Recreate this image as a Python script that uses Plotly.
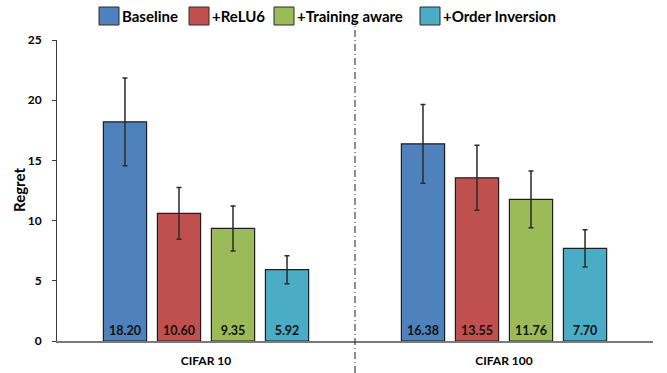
import plotly.graph_objects as go

# Datasets on the x axis
categories = ["CIFAR 10", "CIFAR 100"]

# Mean regret per method
baseline = [18.20, 16.38]
relu6 = [10.60, 13.55]
training_aware = [9.35, 11.76]
order_inversion = [5.92, 7.70]

# Error bar half-widths per method
baseline_err = [3.65, 3.27]
relu6_err = [2.14, 2.70]
training_aware_err = [1.87, 2.35]
order_inversion_err = [1.17, 1.55]

series_names = ["Baseline", "+ReLU6", "+Training aware", "+Order Inversion"]
series_values = [baseline, relu6, training_aware, order_inversion]
series_errors = [baseline_err, relu6_err, training_aware_err, order_inversion_err]
colors = ["#4F81BD", "#C0504D", "#9BBB59", "#4BACC6"]

y_ticks = [0, 5, 10, 15, 20, 25]

FONT = "Lato"
W, H = 667, 373
L, R, T, B = 57, 14, 40, 32

fig = go.Figure()
for name, vals, errs, col in zip(series_names, series_values, series_errors, colors):
    fig.add_trace(go.Bar(
        x=categories,
        y=vals,
        name=name,
        marker=dict(color=col, line=dict(color="#1f1f1f", width=1.2)),
        error_y=dict(type="data", array=errs, visible=True,
                     color="#2a2a2a", thickness=1.5, width=2.5),
        text=[f"{v:.2f}" for v in vals],
        textposition="inside",
        insidetextanchor="start",
        textangle=0,
        constraintext="none",
        insidetextfont=dict(family=FONT, size=12.5, color="#111111", weight="bold"),
        showlegend=False,
    ))

# pixel -> paper helpers for the hand-drawn legend and axis title
pw = W - L - R
ph = H - T - B


def px_x(p):
    return (p - L) / pw


def px_y(p):
    return (H - B - p) / ph


shapes = []
annotations = []

# legend swatches and labels along the top
swatch_left = [99, 189, 274, 420]
for x0, name, col in zip(swatch_left, series_names, colors):
    shapes.append(dict(type="rect", xref="paper", yref="paper",
                       x0=px_x(x0), x1=px_x(x0 + 20), y0=px_y(25), y1=px_y(7),
                       fillcolor=col, line=dict(color="#2a2a2a", width=1)))
    annotations.append(dict(xref="paper", yref="paper", x=px_x(x0 + 21), y=px_y(16),
                            text=name, showarrow=False, xanchor="left", yanchor="middle",
                            font=dict(family=FONT, size=15, color="#000000", weight="bold")))

# rotated y-axis title
annotations.append(dict(xref="paper", yref="paper", x=px_x(19), y=px_y(190),
                        text="Regret", showarrow=False, textangle=-90,
                        xanchor="center", yanchor="middle",
                        font=dict(family=FONT, size=15, color="#000000", weight="bold")))

# dash-dot divider between the two datasets
shapes.append(dict(type="line", xref="x", yref="paper", x0=0.5, x1=0.5,
                   y0=px_y(373), y1=px_y(22),
                   line=dict(color="#1a1a1a", width=1, dash="7px,3px,1px,3px")))

fig.update_layout(
    width=W, height=H,
    margin=dict(l=L, r=R, t=T, b=B),
    paper_bgcolor="white",
    plot_bgcolor="white",
    barmode="group",
    bargap=0.275,
    bargroupgap=0.2,
    font=dict(family=FONT, color="#000000"),
    shapes=shapes,
    annotations=annotations,
    xaxis=dict(
        type="category",
        automargin=False,
        showline=True, linecolor="#7a7a7a", linewidth=2,
        ticks="", showgrid=False, zeroline=False,
        tickfont=dict(family=FONT, size=12, weight="bold", color="#000000"),
        ticklabelstandoff=8,
    ),
    yaxis=dict(
        range=[0, 25],
        automargin=False,
        tickvals=y_ticks,
        showline=True, linecolor="#3a3a3a", linewidth=1,
        ticks="outside", ticklen=4, tickcolor="#3a3a3a",
        showgrid=False, zeroline=False,
        tickfont=dict(family=FONT, size=12, weight="bold", color="#000000"),
        ticklabelstandoff=8,
    ),
)

fig.write_html("out.html")
